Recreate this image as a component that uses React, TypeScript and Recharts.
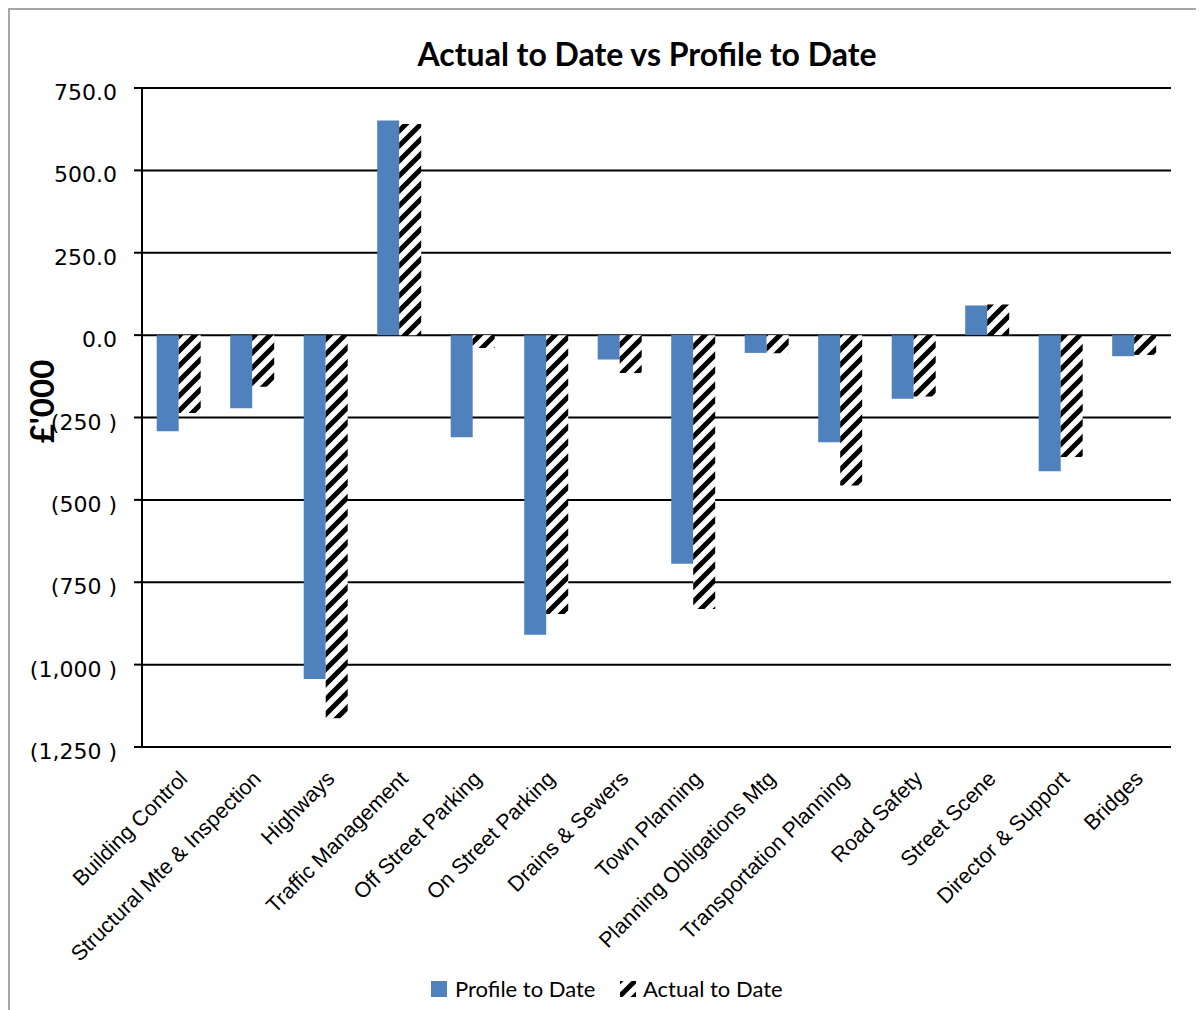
import { BarChart, Bar, XAxis, YAxis, CartesianGrid, Legend } from 'recharts';

const categories = [
  'Building Control',
  'Structural Mte & Inspection',
  'Highways',
  'Traffic Management',
  'Off Street Parking',
  'On Street Parking',
  'Drains & Sewers',
  'Town Planning',
  'Planning Obligations Mtg',
  'Transportation Planning',
  'Road Safety',
  'Street Scene',
  'Director & Support',
  'Bridges',
];

const profileToDate = [-292, -222, -1044, 651, -310, -909, -74, -694, -54, -325, -193, 90, -413, -64];
const actualToDate = [-236, -157, -1163, 641, -39, -846, -115, -831, -55, -456, -186, 93, -370, -60];

const yTicks = [-1250, -1000, -750, -500, -250, 0, 250, 500, 750];

const BLUE = '#4f81bd';

const data = categories.map((name, i) => ({
  name,
  profile: profileToDate[i],
  actual: actualToDate[i],
}));

const formatTick = (v: number) =>
  v >= 0 ? v.toFixed(1) : `(${Math.abs(v).toLocaleString('en-US')} )`;

const YTick = (props: any) => {
  const { x, y, payload } = props;
  return (
    <text x={x} y={y} dy={12} textAnchor="end" fill="#000" fontSize={22} fontFamily="'DejaVu Sans', sans-serif">
      {formatTick(payload.value)}
    </text>
  );
};

const XTick = (props: any) => {
  const { x, y, payload } = props;
  const ax = x + 10;
  const ay = y + 33;
  return (
    <text
      x={ax}
      y={ay}
      textAnchor="end"
      fill="#000"
      fontSize={21.5}
      fontFamily="'Liberation Sans', Arial, sans-serif"
      transform={`rotate(-45, ${ax}, ${ay})`}
    >
      {payload.value}
    </text>
  );
};

const HatchIcon = ({ size }: { size: number }) => (
  <svg width={size} height={size} style={{ display: 'block' }}>
    <rect width={size} height={size} fill="url(#hatch)" />
  </svg>
);

const LegendContent = () => (
  <div style={{ position: 'relative', height: 30, fontFamily: 'Lato, sans-serif', fontSize: 22, color: '#000' }}>
    <div style={{ position: 'absolute', left: 421, top: 6, width: 16, height: 16, background: BLUE }} />
    <span style={{ position: 'absolute', left: 445, top: 0, lineHeight: '28px' }}>Profile to Date</span>
    <div style={{ position: 'absolute', left: 610, top: 6 }}>
      <HatchIcon size={16} />
    </div>
    <span style={{ position: 'absolute', left: 633, top: 0, lineHeight: '28px' }}>Actual to Date</span>
  </div>
);

export default function App() {
  return (
    <div style={{ width: 1220, height: 1030, border: '2px solid #a6a6a6', position: 'relative', background: '#fff' }}>
      <svg width={0} height={0} style={{ position: 'absolute' }}>
        <defs>
          <pattern id="hatch" patternUnits="userSpaceOnUse" width={15} height={15}>
            <rect width={15} height={15} fill="#fff" />
            <path d="M-3.75,3.75 L3.75,-3.75 M0,15 L15,0 M11.25,18.75 L18.75,11.25" stroke="#000" strokeWidth={5} />
          </pattern>
        </defs>
      </svg>
      <div
        style={{
          position: 'absolute',
          top: 28,
          left: 0,
          width: 1274,
          textAlign: 'center',
          fontFamily: 'Lato, sans-serif',
          fontWeight: 700,
          fontSize: 32,
          lineHeight: 1,
          color: '#000',
        }}
      >
        Actual to Date vs Profile to Date
      </div>
      <BarChart
        width={1200}
        height={1000}
        data={data}
        margin={{ top: 78, right: 39, left: 0, bottom: 63 }}
        barCategoryGap="20%"
        barGap={0}
      >
        <CartesianGrid horizontal vertical={false} stroke="#000" strokeWidth={2} />
        <XAxis
          dataKey="name"
          interval={0}
          height={200}
          tickLine={false}
          axisLine={false}
          tickSize={0}
          tickMargin={0}
          tick={<XTick />}
        />
        <YAxis
          width={132}
          domain={[-1250, 750]}
          ticks={yTicks}
          interval={0}
          tickSize={8}
          tickMargin={17}
          tickLine={{ stroke: '#000', strokeWidth: 2 }}
          axisLine={{ stroke: '#000', strokeWidth: 2 }}
          tick={<YTick />}
          label={{
            value: "£'000",
            angle: -90,
            position: 'insideLeft',
            offset: 0,
            dx: 32,
            dy: -16,
            style: { fontFamily: 'Lato, sans-serif', fontWeight: 700, fontSize: 33, fill: '#000', textAnchor: 'middle' },
          }}
        />
        <Legend
          layout="horizontal"
          verticalAlign="middle"
          align="center"
          wrapperStyle={{ top: 965, left: 0, width: 1200 }}
          content={<LegendContent />}
        />
        <Bar dataKey="profile" name="Profile to Date" fill={BLUE} isAnimationActive={false} />
        <Bar dataKey="actual" name="Actual to Date" fill="url(#hatch)" isAnimationActive={false} />
      </BarChart>
    </div>
  );
}
